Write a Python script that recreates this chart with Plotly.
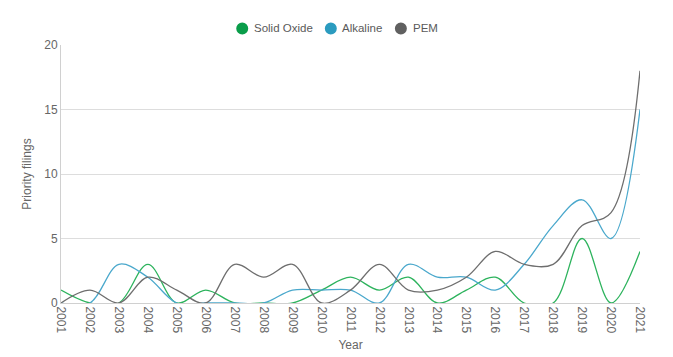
import plotly.graph_objects as go

years = list(range(2001, 2022))
solid_oxide = [1, 0, 0, 3, 0, 1, 0, 0, 0, 1, 2, 1, 2, 0, 1, 2, 0, 0, 5, 0, 4]
alkaline = [0, 0, 3, 2, 0, 0, 0, 0, 1, 1, 1, 0, 3, 2, 2, 1, 3, 6, 8, 5, 15]
pem = [0, 1, 0, 2, 1, 0, 3, 2, 3, 0, 1, 3, 1, 1, 2, 4, 3, 3, 6, 7, 18]

names = ["Solid Oxide", "Alkaline", "PEM"]
line_colors = ["#2db35d", "#4aa8cc", "#6e6e6e"]
marker_colors = ["#0a9d4a", "#2b9bbf", "#606060"]
legend_marker_x = [0.313, 0.466, 0.587]
legend_text_x = [0.330, 0.482, 0.604]
legend_y = 1.064

fig = go.Figure()
for name, vals, lc in zip(names, [solid_oxide, alkaline, pem], line_colors):
    fig.add_trace(go.Scatter(x=years, y=vals, mode="lines", name=name,
                             line=dict(color=lc, width=1.3, shape="spline", smoothing=1),
                             showlegend=False))

for name, mc, mx, tx in zip(names, marker_colors, legend_marker_x, legend_text_x):
    fig.add_shape(type="circle", xref="paper", yref="paper",
                  xsizemode="pixel", ysizemode="pixel",
                  xanchor=mx, yanchor=legend_y,
                  x0=-6, x1=6, y0=-6, y1=6,
                  fillcolor=mc, line=dict(width=0))
    fig.add_annotation(x=tx, y=legend_y, xref="paper", yref="paper",
                       text=name, showarrow=False, xanchor="left", yanchor="middle",
                       font=dict(size=11.5, color="#5a5a5a"))

fig.update_layout(
    width=665, height=349,
    margin=dict(l=53, r=33, t=37, b=54),
    paper_bgcolor="white", plot_bgcolor="white",
    showlegend=False,
    font=dict(family="Liberation Sans, Arial, sans-serif", size=12, color="#666666"),
    xaxis=dict(range=[2001, 2021], tickmode="array", tickvals=years,
               ticktext=[str(y) for y in years], tickangle=90, automargin=False,
               showgrid=False, zeroline=False, showline=True, linecolor="#d0d0d0",
               ticks="", title=dict(text="Year", standoff=8, font=dict(size=12, color="#666666"))),
    yaxis=dict(range=[0, 20], tickvals=[0, 5, 10, 15, 20], showgrid=True, automargin=False,
               gridcolor="#dddddd", gridwidth=1, zeroline=False, showline=True,
               linecolor="#d0d0d0", ticks="",
               title=dict(text="Priority filings", standoff=10, font=dict(size=12, color="#666666"))),
)
fig.write_html("out.html")
